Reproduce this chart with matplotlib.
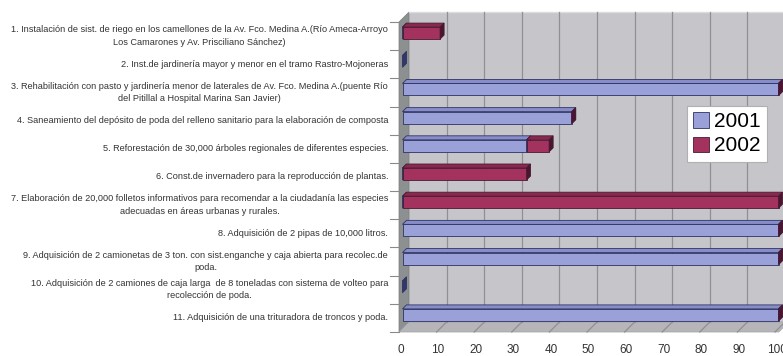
import matplotlib
matplotlib.use("Agg")
import matplotlib.pyplot as plt
from matplotlib.patches import Polygon, Patch

plt.rcParams['font.family'] = ['Liberation Sans', 'DejaVu Sans']

# datos (porcentaje de avance)
labels = [
    "1. Instalación de sist. de riego en los camellones de la Av. Fco. Medina A.(Río Ameca-Arroyo\nLos Camarones y Av. Prisciliano Sánchez)",
    "2. Inst.de jardinería mayor y menor en el tramo Rastro-Mojoneras",
    "3. Rehabilitación con pasto y jardinería menor de laterales de Av. Fco. Medina A.(puente Río\ndel Pitillal a Hospital Marina San Javier)",
    "4. Saneamiento del depósito de poda del relleno sanitario para la elaboración de composta",
    "5. Reforestación de 30,000 árboles regionales de diferentes especies.",
    "6. Const.de invernadero para la reproducción de plantas.",
    "7. Elaboración de 20,000 folletos informativos para recomendar a la ciudadanía las especies\nadecuadas en áreas urbanas y rurales.",
    "8. Adquisición de 2 pipas de 10,000 litros.",
    "9. Adquisición de 2 camionetas de 3 ton. con sist.enganche y caja abierta para recolec.de\npoda.",
    "10. Adquisición de 2 camiones de caja larga  de 8 toneladas con sistema de volteo para\nrecolección de poda.",
    "11. Adquisición de una trituradora de troncos y poda.",
]
v2001 = [0, 0, 100, 45, 33, 0, 0, 100, 100, 0, 100]
v2002 = [10, 0, 0, 0, 6, 33, 100, 0, 0, 0, 0]
years = ["2001", "2002"]
xticks = [0, 10, 20, 30, 40, 50, 60, 70, 80, 90, 100]

# colores: frente, cara superior, costado
col2001 = ("#9aa0d8", "#878dc8", "#34366a")
col2002 = ("#a3325f", "#8a2950", "#4a1530")
edge2001 = "#2e3262"
edge2002 = "#4a1a32"

W, H = 783, 356
fig = plt.figure(figsize=(W / 100, H / 100), dpi=100)
fx0, fx1 = 399, 775      # plano frontal en px
fy0, fy1 = 22, 332
ax = fig.add_axes([fx0 / W, 1 - fy1 / H, (fx1 - fx0) / W, (fy1 - fy0) / H])
n = len(labels)
ax.set_xlim(0, 100)
ax.set_ylim(n - 0.5, -0.5)
ax.axis("off")

pxx = (fx1 - fx0) / 100.0
pxy = (fy1 - fy0) / float(n)
DX, DY = 10 / pxx, 10 / pxy          # profundidad de las paredes
bx, by = 3.5 / pxx, 3 / pxy          # desplazamiento de las barras
bdx, bdy = 4 / pxx, 4 / pxy          # profundidad de las barras
bh = 12 / pxy

top, bot = -0.5, n - 0.5
# pared del fondo
ax.add_patch(Polygon([(DX, top - DY), (100 + DX + 3, top - DY), (100 + DX + 3, bot - DY), (DX, bot - DY)],
                     closed=True, fc="#c6c6ca", ec="none", clip_on=False, zorder=0))
# pared izquierda
ax.add_patch(Polygon([(0, top), (DX, top - DY), (DX, bot - DY), (0, bot)],
                     closed=True, fc="#8c9090", ec="#7a7e7e", lw=0.5, clip_on=False, zorder=1))
# piso
ax.add_patch(Polygon([(0, bot), (100 + 1, bot), (100 + DX + 1, bot - DY), (DX, bot - DY)],
                     closed=True, fc="#b6b6ba", ec="#a0a0a4", lw=0.5, clip_on=False, zorder=1))
ax.plot([DX, 100 + DX + 3], [top - DY, top - DY], color="#dcdce0", lw=1, clip_on=False, zorder=1)

for v in xticks[1:]:
    ax.plot([v + DX, v + DX], [top - DY, bot - DY], color="#909094", lw=0.9, clip_on=False, zorder=1)
    ax.plot([v, v + DX], [bot, bot - DY], color="#909094", lw=0.9, clip_on=False, zorder=1)

for v in xticks:
    ax.text(v + 0.4, bot + 12 / pxy, str(v), ha="center", va="top", fontsize=8.5, color="#333333")

# marcas del eje de categorias
for i in range(n + 1):
    yb = i - 0.5
    ax.plot([-2.5, 0], [yb, yb], color="#8a8a8a", lw=0.8, clip_on=False, zorder=1)


def bar3d(left, w, y, cols, ec):
    x0 = left + bx
    y0 = y - by
    yt, yb_ = y0 - bh / 2, y0 + bh / 2
    if w > 0:
        ax.add_patch(Polygon([(x0, yt), (x0 + w, yt), (x0 + w, yb_), (x0, yb_)],
                             closed=True, fc=cols[0], ec=ec, lw=0.6, clip_on=False, zorder=3))
        ax.add_patch(Polygon([(x0, yt), (x0 + w, yt), (x0 + w + bdx, yt - bdy), (x0 + bdx, yt - bdy)],
                             closed=True, fc=cols[1], ec=ec, lw=0.6, clip_on=False, zorder=3))
    ax.add_patch(Polygon([(x0 + w, yt), (x0 + w + bdx, yt - bdy), (x0 + w + bdx, yb_ - bdy), (x0 + w, yb_)],
                         closed=True, fc=cols[2], ec=ec, lw=0.6, clip_on=False, zorder=3))


for i in range(n):
    bar3d(0, v2001[i], i, col2001, edge2001)
    if v2001[i] + v2002[i] > 0:
        bar3d(v2001[i], v2002[i], i, col2002, edge2002)
    ax.text(-2.9, i, labels[i], ha="right", va="center", multialignment="center",
            fontsize=6.6, linespacing=1.5, color="#333333", clip_on=False)

handles = [Patch(fc=col2001[0], ec=edge2001, lw=0.6), Patch(fc=col2002[0], ec=edge2002, lw=0.6)]
leg = ax.legend(handles, years, loc="upper left", bbox_to_anchor=(687 / W, 1 - 106 / H),
                bbox_transform=fig.transFigure, fontsize=15, frameon=True, fancybox=False,
                edgecolor="#b0b0b0", framealpha=1, borderpad=0.3, labelspacing=0.25,
                handlelength=0.75, handleheight=0.75, handletextpad=0.25, borderaxespad=0)
leg.get_frame().set_linewidth(0.8)
leg.set_zorder(5)

fig.savefig("out.png", dpi=100)
